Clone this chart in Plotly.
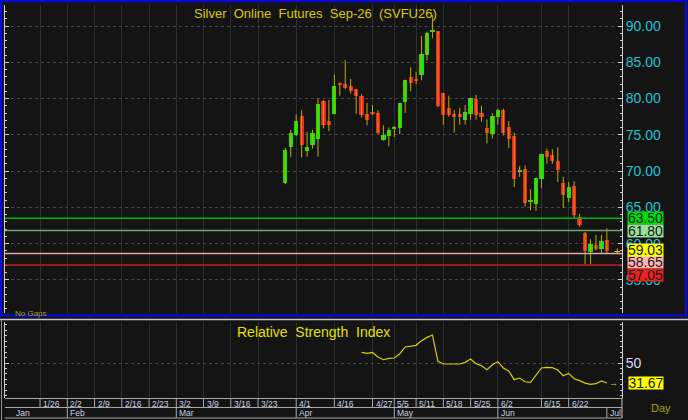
import plotly.graph_objects as go

# daily candles, index 0 = first bar on the chart
opens = [68.3, 73.3, 75.0, 77.6, 72.8, 73.6, 74.4, 79.6, 76.9, 77.9,
         82.1, 82.0, 81.8, 81.3, 80.4, 77.9, 78.1, 78.0, 74.3, 74.8,
         75.9, 75.9, 79.5, 83.0, 82.7, 83.3, 86.0, 89.3, 89.3, 80.7,
         78.7, 77.9, 77.9, 77.0, 77.9, 80.0, 78.0, 76.0, 75.1, 77.5,
         78.4, 76.1, 74.9, 69.95, 70.3, 65.75, 65.4, 68.85, 72.7, 72.2,
         71.4, 68.4, 66.3, 68.0, 63.6, 61.4, 58.8, 59.8, 59.3, 60.5]
highs = [73.2, 75.7, 77.8, 78.4, 75.4, 75.7, 80.0, 79.8, 79.8, 83.3,
         82.2, 85.3, 82.7, 81.3, 80.6, 79.4, 79.1, 78.4, 76.3, 76.0,
         76.2, 79.4, 82.6, 84.3, 83.7, 88.6, 89.2, 91.5, 89.3, 80.8,
         80.4, 78.4, 78.7, 79.1, 80.1, 80.5, 79.0, 77.1, 78.0, 78.6,
         78.6, 76.9, 75.3, 70.7, 70.8, 67.5, 69.1, 72.4, 73.1, 73.0,
         73.3, 69.2, 68.5, 68.6, 64.1, 61.6, 60.6, 61.2, 61.2, 62.1]
lows = [68.2, 71.9, 74.8, 71.9, 72.0, 73.1, 72.0, 75.9, 75.5, 77.8,
        80.4, 81.3, 80.7, 77.9, 77.4, 76.3, 77.7, 75.1, 74.2, 73.4,
        74.7, 75.1, 78.0, 81.0, 82.0, 82.5, 85.2, 88.3, 78.8, 76.4,
        77.5, 75.3, 76.4, 76.4, 77.1, 77.1, 76.8, 73.8, 74.5, 76.4,
        74.9, 73.2, 67.8, 69.2, 65.1, 64.6, 64.5, 67.7, 71.0, 71.0,
        68.5, 64.9, 65.7, 63.4, 62.35, 57.2, 57.2, 59.0, 58.55, 58.55]
closes = [72.9, 75.3, 76.9, 73.6, 73.3, 75.2, 79.3, 76.3, 76.4, 81.8,
          81.9, 81.4, 81.1, 80.3, 77.7, 77.0, 78.0, 75.3, 75.0, 75.7,
          76.0, 79.4, 82.5, 82.1, 82.5, 86.1, 89.0, 89.4, 79.0, 77.8,
          77.8, 77.5, 77.5, 78.1, 80.1, 77.8, 77.4, 75.3, 77.6, 78.4,
          75.3, 74.4, 68.85, 70.05, 65.6, 65.85, 69.0, 72.4, 72.0, 71.4,
          70.1, 66.7, 67.85, 63.9, 62.5, 59.0, 59.9, 59.2, 60.3, 59.03]

# RSI(14), starts at bar 14
rsi_start = 14
rsi = [59.7, 58.8, 59.7, 55.5, 53.0, 54.2, 54.6, 58.5, 64.7, 65.6,
       66.2, 70.5, 73.5, 75.7, 51.5, 49.1, 49.1, 49.1, 49.1, 50.6,
       53.7, 49.4, 47.5, 43.9, 48.4, 51.2, 45.4, 42.7, 34.7, 36.2,
       32.8, 32.2, 38.3, 45.4, 46.0, 45.7, 43.6, 38.3, 40.5, 35.6,
       33.8, 31.6, 30.4, 31.0, 33.5, 31.67]

# horizontal levels and their label colours
levels = [63.50, 61.80, 58.65, 57.05]
level_line = ["#00b400", "#6aa86a", "#e0a8a8", "#c81c1c"]
level_box = ["#00dc00", "#98e098", "#ffb4b4", "#e82020"]
level_shift = [0, 0, -8.6, -10.5]

# weekly date ticks (bar index) and month starts
tick_pos = [-45, -40, -35, -30, -25, -20, -15, -10, -5, 2, 9, 16, 20, 24, 29, 34, 39, 47, 52]
tick_text = ["1/26", "2/2", "2/9", "2/16", "2/23", "3/2", "3/9", "3/16", "3/23", "4/1",
             "4/16", "4/27", "5/5", "5/11", "5/18", "5/25", "6/2", "6/15", "6/22"]
month_pos = [-50, -40, -20, 2, 20, 39, 59]
month_text = ["Jan", "Feb", "Mar", "Apr", "May", "Jun", "Jul"]

W, H = 688, 420
BG = "#141414"
FONT = "Liberation Sans, Arial, sans-serif"


def fx(p):
    return p / W


def fy(p):
    return 1 - p / H


x_left, x_right = 5, 622
xr = [(x_left - 285.3) / 5.45, (x_right - 285.3) / 5.45]

idx = list(range(len(opens)))

# wicks as one broken line
wx, wy = [], []
for i in idx:
    wx += [i, i, None]
    wy += [lows[i], highs[i], None]

body_base = [min(o, c) for o, c in zip(opens, closes)]
body_h = [max(abs(c - o), 0.18) for o, c in zip(opens, closes)]
body_col = ["#10e410" if c >= o else "#f02424" for o, c in zip(opens, closes)]

fig = go.Figure()
fig.add_trace(go.Scatter(x=wx, y=wy, mode="lines", line=dict(color="#bcaa00", width=1),
                         hoverinfo="skip", xaxis="x", yaxis="y"))
fig.add_trace(go.Bar(x=idx, y=body_h, base=body_base, width=0.78,
                     marker=dict(color=body_col, line=dict(width=0)),
                     xaxis="x", yaxis="y"))
fig.add_trace(go.Scatter(x=list(range(rsi_start, rsi_start + len(rsi))), y=rsi, mode="lines",
                         line=dict(color="#d8d000", width=1.2), xaxis="x2", yaxis="y2"))

shapes = []
for lv, col in zip(levels, level_line):
    shapes.append(dict(type="line", xref="paper", yref="y", x0=fx(x_left), x1=fx(x_right),
                       y0=lv, y1=lv, line=dict(color=col, width=1.5)))

# frames
shapes.append(dict(type="rect", xref="paper", yref="paper", x0=fx(1), x1=fx(686),
                   y0=fy(315.5), y1=fy(1), line=dict(color="#0a0ad0", width=2.5)))
shapes.append(dict(type="line", xref="paper", yref="paper", x0=0, x1=1,
                   y0=fy(319.5), y1=fy(319.5), line=dict(color="#c8c8c8", width=1.5)))
shapes.append(dict(type="line", xref="paper", yref="paper", x0=fx(1.5), x1=fx(1.5),
                   y0=fy(420), y1=fy(320), line=dict(color="#909090", width=1)))
shapes.append(dict(type="line", xref="paper", yref="paper", x0=fx(x_right), x1=fx(x_right),
                   y0=fy(418), y1=fy(398), line=dict(color="#c8c8c8", width=1)))

# date rows under the rsi panel
row1_top, row2_top, row_bot = 398.5, 407.5, 418
for y in (row1_top, row2_top, row_bot):
    shapes.append(dict(type="line", xref="paper", yref="paper", x0=fx(x_left), x1=fx(x_right),
                       y0=fy(y), y1=fy(y), line=dict(color="#a8a8a8", width=1)))
for p in tick_pos:
    shapes.append(dict(type="line", xref="x", yref="paper", x0=p, x1=p,
                       y0=fy(row2_top), y1=fy(row1_top), line=dict(color="#a8a8a8", width=1)))
for p in month_pos[1:]:
    shapes.append(dict(type="line", xref="x", yref="paper", x0=p, x1=p,
                       y0=fy(row_bot), y1=fy(row2_top), line=dict(color="#a8a8a8", width=1)))

ann = []
for p, t in zip(tick_pos, tick_text):
    ann.append(dict(x=p, y=fy(403.5), xref="x", yref="paper", text=t, showarrow=False,
                    xanchor="left", yanchor="middle", xshift=1,
                    font=dict(family=FONT, size=8.5, color="#c8d2e4")))
for p, t in zip(month_pos, month_text):
    ann.append(dict(x=p, y=fy(413), xref="x", yref="paper", text=t, showarrow=False,
                    xanchor="left", yanchor="middle", xshift=1,
                    font=dict(family=FONT, size=8.5, color="#c8d2e4")))

for lv, col, sh in zip(levels, level_box, level_shift):
    ann.append(dict(x=fx(626.5), y=lv, xref="paper", yref="y", text=f"{lv:.2f}", showarrow=False,
                    xanchor="left", yanchor="middle", yshift=sh, bgcolor=col, width=35, height=12,
                    borderpad=0, font=dict(family=FONT, size=14, color="#1a1a1a")))
ann.append(dict(x=fx(626.5), y=closes[-1], xref="paper", yref="y", text=f"{closes[-1]:.2f}",
                showarrow=False, xanchor="left", yanchor="middle", yshift=1, bgcolor="#ffff00",
                width=35, height=12, borderpad=0, font=dict(family=FONT, size=14, color="#1a1a1a")))
ann.append(dict(x=fx(628), y=rsi[-1], xref="paper", yref="y2", text=f"{rsi[-1]:.2f}",
                showarrow=False, xanchor="left", yanchor="middle", bgcolor="#ffff00", width=34,
                height=12, borderpad=0, font=dict(family=FONT, size=14, color="#1a1a1a")))
ann.append(dict(x=len(opens) + 0.9, y=closes[-1], xref="x", yref="y", text="+", showarrow=False,
                xanchor="center", yanchor="middle", font=dict(family=FONT, size=11, color="#e0d000")))
ann.append(dict(x=len(opens) + 0.3, y=rsi[-1], xref="x2", yref="y2", text="→", showarrow=False,
                xanchor="center", yanchor="middle", font=dict(family=FONT, size=9, color="#e0d000")))

sp = "\u00a0\u00a0"
ann.append(dict(x=fx(315), y=fy(13), xref="paper", yref="paper",
                text=sp.join(["Silver", "Online", "Futures", "Sep-26", "(SVFU26)"]),
                showarrow=False, xanchor="center", yanchor="middle",
                font=dict(family=FONT, size=13, color="#d8cc00")))
ann.append(dict(x=fx(313), y=fy(332), xref="paper", yref="paper",
                text=sp.join(["Relative", "Strength", "Index"]),
                showarrow=False, xanchor="center", yanchor="middle",
                font=dict(family=FONT, size=14, color="#e4e000")))
ann.append(dict(x=fx(13), y=fy(313), xref="paper", yref="paper", text="No Gaps",
                showarrow=False, xanchor="left", yanchor="middle",
                font=dict(family=FONT, size=8, color="#a8a800")))
ann.append(dict(x=fx(661), y=fy(408), xref="paper", yref="paper", text="Day",
                showarrow=False, xanchor="center", yanchor="middle",
                font=dict(family=FONT, size=11, color="#b0a400")))

xcommon = dict(range=xr, domain=[fx(x_left), fx(x_right)], tickvals=tick_pos, showticklabels=False,
               showgrid=True, gridcolor="#2e2e2e", gridwidth=1, zeroline=False, ticks="",
               showline=False, fixedrange=True)
ycommon = dict(side="right", showline=True, linecolor="#d0d0d0", linewidth=1, mirror="ticks",
               ticks="inside", ticklen=4, tickcolor="#d0d0d0", showgrid=True, gridcolor="#444444",
               griddash="dot", zeroline=False, fixedrange=True)

fig.update_layout(
    width=W, height=H, margin=dict(l=0, r=0, t=0, b=0),
    paper_bgcolor=BG, plot_bgcolor=BG, showlegend=False, bargap=0, hovermode=False,
    xaxis=dict(anchor="y", **xcommon),
    xaxis2=dict(anchor="y2", matches="x", **xcommon),
    yaxis=dict(domain=[fy(313), fy(5)], range=[50.43, 92.9], tickvals=[55, 60, 65, 70, 75, 80, 85, 90],
               tickformat=".2f", tickfont=dict(family=FONT, size=14, color="#20c4d4"),
               minor=dict(dtick=1, ticklen=2, tickcolor="#d0d0d0", ticks="inside", showgrid=False),
               **ycommon),
    yaxis2=dict(domain=[fy(398), fy(322)], range=[17.9, 87.6], tickvals=[50],
                tickfont=dict(family=FONT, size=14, color="#d4d8f0"),
                minor=dict(dtick=5, ticklen=2, tickcolor="#d0d0d0", ticks="inside", showgrid=False),
                **ycommon),
    shapes=shapes, annotations=ann,
)

# page body has a default 8px margin; drop it so the figure fills the window
fig.write_html("out.html", config={"displayModeBar": False},
               post_script="document.body.style.margin='0';")
